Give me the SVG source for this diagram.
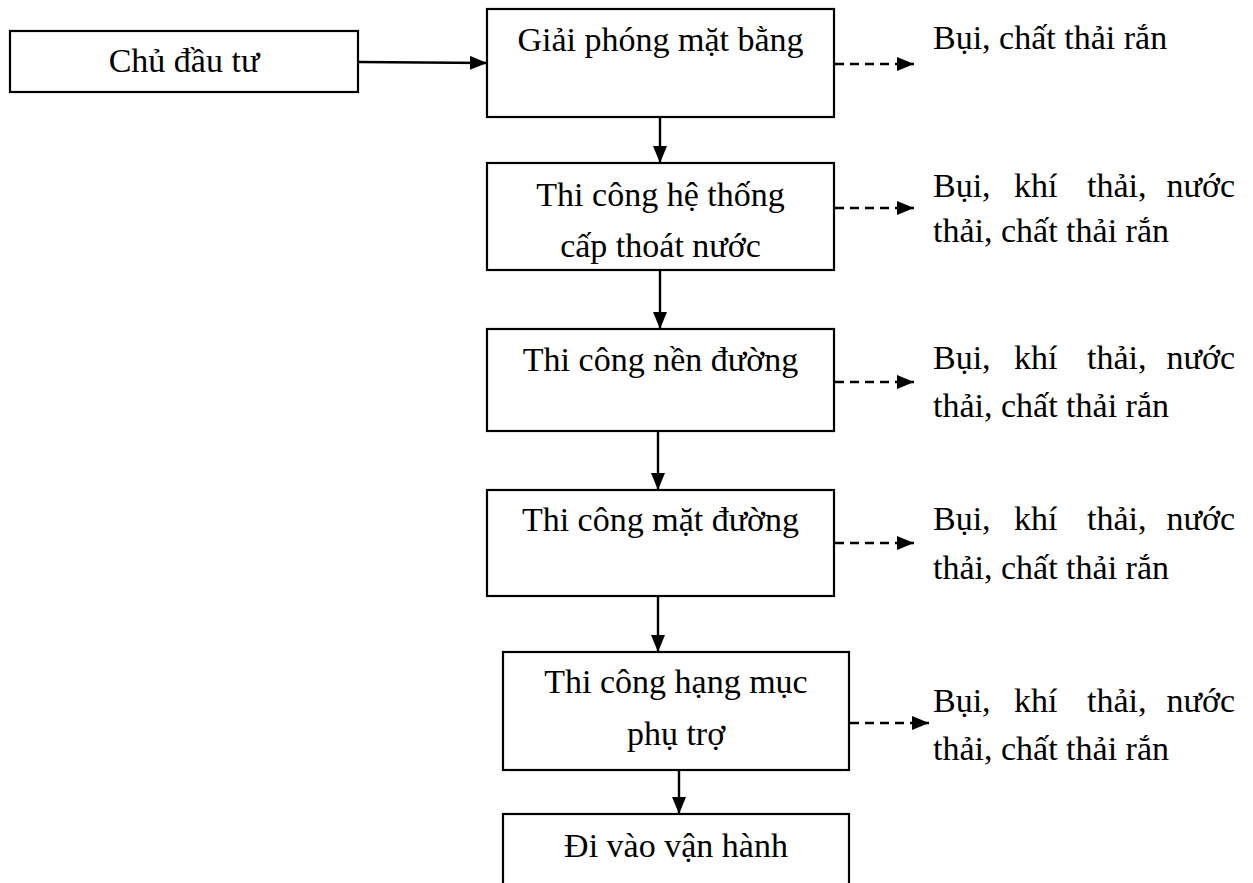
<svg xmlns="http://www.w3.org/2000/svg" width="1253" height="883" viewBox="0 0 1253 883">
<style>
  .box { fill: #ffffff; stroke: #000000; stroke-width: 2.2; }
  .t { font-family: "Liberation Serif", "Times New Roman", serif; font-size: 34px; fill: #000000; }
  .c { text-anchor: middle; }
  .solid { stroke: #000000; stroke-width: 2.4; fill: none; marker-end: url(#ah); }
  .dash { stroke: #000000; stroke-width: 2.4; fill: none; stroke-dasharray: 9 6; marker-end: url(#ah); }
</style>
<defs>
  <marker id="ah" viewBox="0 0 17 14" markerWidth="17" markerHeight="14" refX="17" refY="7" orient="auto" markerUnits="userSpaceOnUse">
    <path d="M0,0 L17,7 L0,14 z" fill="#000000"/>
  </marker>
</defs>
<rect width="1253" height="883" fill="#ffffff"/>

<g id="connectors">
  <line class="solid" x1="358" y1="62" x2="487" y2="63"/>
  <line class="solid" x1="660" y1="117" x2="660" y2="163"/>
  <line class="solid" x1="660" y1="270" x2="660" y2="329"/>
  <line class="solid" x1="658" y1="431" x2="658" y2="490"/>
  <line class="solid" x1="658" y1="596" x2="658" y2="652"/>
  <line class="solid" x1="679" y1="770" x2="679" y2="814"/>
  <line class="dash" x1="835" y1="64" x2="914" y2="64"/>
  <line class="dash" x1="835" y1="208" x2="914" y2="208"/>
  <line class="dash" x1="835" y1="382" x2="914" y2="382"/>
  <line class="dash" x1="835" y1="543" x2="914" y2="543"/>
  <line class="dash" x1="850" y1="723" x2="929" y2="723"/>
</g>

<g id="node-chu-dau-tu">
  <rect class="box" x="10" y="31" width="348" height="61"/>
  <text class="t c" x="184" y="72">Chủ đầu tư</text>
</g>

<g id="node-giai-phong">
  <rect class="box" x="487" y="9" width="347" height="108"/>
  <text class="t c" x="660.5" y="51">Giải phóng mặt bằng</text>
</g>

<g id="node-cap-thoat-nuoc">
  <rect class="box" x="487" y="163" width="347" height="107"/>
  <text class="t c" x="660.5" y="206">Thi công hệ thống</text>
  <text class="t c" x="660.5" y="257">cấp thoát nước</text>
</g>

<g id="node-nen-duong">
  <rect class="box" x="487" y="329" width="347" height="102"/>
  <text class="t c" x="660.5" y="371">Thi công nền đường</text>
</g>

<g id="node-mat-duong">
  <rect class="box" x="487" y="490" width="347" height="106"/>
  <text class="t c" x="660.5" y="531">Thi công mặt đường</text>
</g>

<g id="node-phu-tro">
  <rect class="box" x="503" y="652" width="346" height="118"/>
  <text class="t c" x="676" y="693">Thi công hạng mục</text>
  <text class="t c" x="676" y="745">phụ trợ</text>
</g>

<g id="node-van-hanh">
  <rect class="box" x="503" y="814" width="346" height="90"/>
  <text class="t c" x="676" y="857">Đi vào vận hành</text>
</g>

<g id="out-1">
  <text class="t" x="933" y="49">Bụi, chất thải rắn</text>
</g>
<g id="out-2">
  <text class="t" y="197"><tspan x="933">Bụi,</tspan><tspan x="1014">khí</tspan><tspan x="1087">thải,</tspan><tspan x="1235" text-anchor="end">nước</tspan></text>
  <text class="t" x="933" y="242">thải, chất thải rắn</text>
</g>
<g id="out-3">
  <text class="t" y="369"><tspan x="933">Bụi,</tspan><tspan x="1014">khí</tspan><tspan x="1087">thải,</tspan><tspan x="1235" text-anchor="end">nước</tspan></text>
  <text class="t" x="933" y="417">thải, chất thải rắn</text>
</g>
<g id="out-4">
  <text class="t" y="530"><tspan x="933">Bụi,</tspan><tspan x="1014">khí</tspan><tspan x="1087">thải,</tspan><tspan x="1235" text-anchor="end">nước</tspan></text>
  <text class="t" x="933" y="579">thải, chất thải rắn</text>
</g>
<g id="out-5">
  <text class="t" y="712"><tspan x="933">Bụi,</tspan><tspan x="1014">khí</tspan><tspan x="1087">thải,</tspan><tspan x="1235" text-anchor="end">nước</tspan></text>
  <text class="t" x="933" y="760">thải, chất thải rắn</text>
</g>
</svg>
